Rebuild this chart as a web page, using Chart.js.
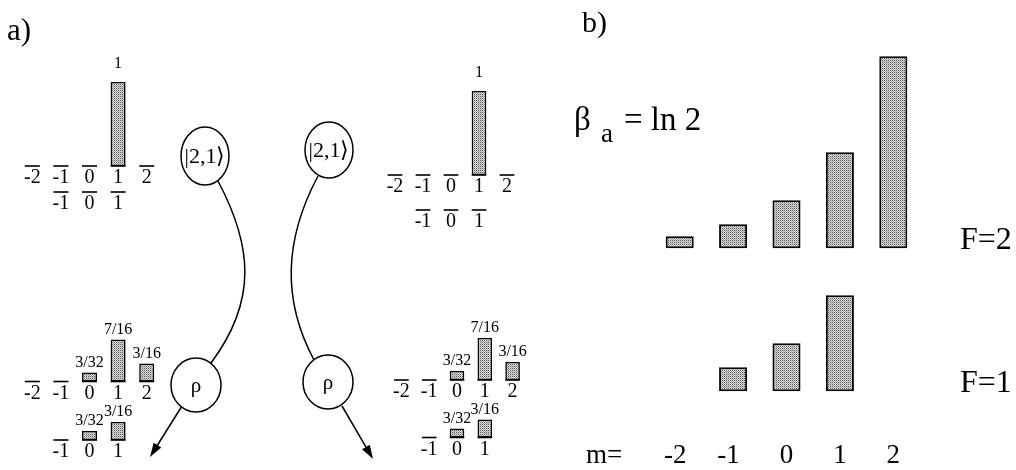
<!DOCTYPE html>
<html>
<head>
<meta charset="utf-8">
<script src="https://cdn.jsdelivr.net/npm/chart.js@4.4.1/dist/chart.umd.min.js"></script>
<style>
  html, body { margin: 0; padding: 0; background: #fff; }
  body { width: 1016px; height: 470px; position: relative; overflow: hidden; }
  canvas { position: absolute; left: 0; top: 0; }
</style>
</head>
<body>
<canvas id="transitions" width="1016" height="470"></canvas>
<canvas id="aTL" width="1016" height="470"></canvas>
<canvas id="aBL" width="1016" height="470"></canvas>
<canvas id="aTR" width="1016" height="470"></canvas>
<canvas id="aBR" width="1016" height="470"></canvas>
<canvas id="panelB" width="1016" height="470"></canvas>
<script>
// Magnetic sublevels m of the hyperfine manifolds
const mTickLabels = ['-2', '-1', '0', '1', '2'];

// Populations (null = sublevel does not exist in that manifold)
const popInitialF2 = [0, 0, 0, 1, 0];          // pure |2,1>
const popInitialF1 = [null, 0, 0, 0, null];
const popFinalF2   = [0, 0, 0.09375, 0.4375, 0.1875];   // rho: 3/32, 7/16, 3/16
const popFinalF1   = [null, 0, 0.09375, 0.1875, null];  // rho: 3/32, 3/16

// Thermal distribution for beta_a = ln 2 (relative weights)
const thermalF2 = [0.25, 0.5, 1, 2, 4];
const thermalF1 = [null, 0.5, 1, 2, null];

const W = 1016, H = 470;
const SERIF = '"Liberation Serif", "Times New Roman", serif';

// stippled grey fill used for every population bar
const tile = document.createElement('canvas');
tile.width = 2; tile.height = 2;
(function () {
  const g = tile.getContext('2d');
  g.fillStyle = '#dcdcdc'; g.fillRect(0, 0, 2, 2);
  g.fillStyle = '#5a5a5a'; g.fillRect(0, 0, 1, 1);
  g.fillStyle = '#a4a4a4'; g.fillRect(1, 1, 1, 1);
})();

function asFraction(v) {
  if (Number.isInteger(v)) return String(v);
  for (let d = 2; d <= 64; d *= 2) {
    const n = v * d;
    if (Math.abs(n - Math.round(n)) < 1e-9) return Math.round(n) + '/' + d;
  }
  return v.toFixed(2);
}

const baseOptions = {
  responsive: false,
  animation: false,
  events: [],
  plugins: { legend: { display: false }, tooltip: { enabled: false } }
};

// ---------- panel a: level diagrams ----------
const diagrams = [
  { id: 'aTL', f2: popInitialF2, f1: popInitialF1, c0: 89.5, step: 28.6, yF2: 166,   yF1: 192,   k: 84, gap: 14 },
  { id: 'aBL', f2: popFinalF2,   f1: popFinalF1,   c0: 89.5, step: 28.6, yF2: 381.5, yF1: 440,   k: 96, gap: 6 },
  { id: 'aTR', f2: popInitialF2, f1: popInitialF1, c0: 451,  step: 28,   yF2: 175,   yF1: 210,   k: 84, gap: 14 },
  { id: 'aBR', f2: popFinalF2,   f1: popFinalF1,   c0: 457,  step: 27.8, yF2: 380,   yF1: 437.5, k: 96, gap: 6 }
];

function levelPlugin(cfg, f1Base) {
  return {
    id: 'levels',
    afterDatasetsDraw(chart) {
      const { ctx } = chart;
      const xs = chart.scales.x, ys = chart.scales.y;
      const half = cfg.step * 0.525 / 2;
      ctx.save();
      ctx.fillStyle = '#000';
      ctx.strokeStyle = '#000';
      ctx.lineWidth = 1.6;
      ctx.textAlign = 'center';
      ctx.textBaseline = 'alphabetic';
      [{ pops: cfg.f2, base: 0 }, { pops: cfg.f1, base: f1Base }].forEach(L => {
        L.pops.forEach((p, i) => {
          if (p === null) return;
          const cx = xs.getPixelForValue(i);
          const by = ys.getPixelForValue(L.base);
          ctx.beginPath();
          ctx.moveTo(cx - half, by);
          ctx.lineTo(cx + half, by);
          ctx.stroke();
          ctx.font = '20px ' + SERIF;
          ctx.fillText(mTickLabels[i], cx, by + 17);
          if (p > 0) {
            ctx.font = '16px ' + SERIF;
            ctx.fillText(asFraction(p), cx, ys.getPixelForValue(L.base + p) - cfg.gap);
          }
        });
      });
      ctx.restore();
    }
  };
}

diagrams.forEach(cfg => {
  const left = cfg.c0 - 2.5 * cfg.step, right = cfg.c0 + 2.5 * cfg.step;
  const top = cfg.yF2 - 130, bottom = cfg.yF1 + 30;
  const f1Base = (cfg.yF2 - cfg.yF1) / cfg.k;
  const canvas = document.getElementById(cfg.id);
  const fill = canvas.getContext('2d').createPattern(tile, 'repeat');
  const barStyle = {
    backgroundColor: fill, borderColor: '#000', borderWidth: 1.6, borderSkipped: false,
    grouped: false, barPercentage: 0.525, categoryPercentage: 1
  };
  new Chart(canvas, {
    type: 'bar',
    data: {
      labels: mTickLabels,
      datasets: [
        { label: 'F=2', data: cfg.f2.map(v => v ? [0, v] : null), ...barStyle },
        { label: 'F=1', data: cfg.f1.map(v => v ? [f1Base, f1Base + v] : null), ...barStyle }
      ]
    },
    options: {
      ...baseOptions,
      layout: { padding: { left: left, right: W - right, top: top, bottom: H - bottom } },
      scales: {
        x: { display: false },
        y: { display: false, min: -(bottom - cfg.yF2) / cfg.k, max: (cfg.yF2 - top) / cfg.k }
      }
    },
    plugins: [levelPlugin(cfg, f1Base)]
  });
});

// ---------- panel a: states and evolution arrows ----------
const stateNodes = [
  { text: '|2,1\u27E9', x: 205, y: 156, rx: 24, ry: 29, size: 22 },
  { text: '|2,1\u27E9', x: 329, y: 150, rx: 24, ry: 28, size: 22 },
  { text: '\u03C1',     x: 196, y: 385, rx: 25, ry: 27, size: 21 },
  { text: '\u03C1',     x: 328, y: 382, rx: 25, ry: 27, size: 21 }
];
const evolutionCurves = [
  [[218, 181], [252, 245], [258, 300], [211, 363]],
  [[318, 176], [284, 240], [282, 300], [314, 360]]
];
const outArrows = [
  [[182, 406], [150, 457]],
  [[342, 406], [373, 459]]
];

new Chart(document.getElementById('transitions'), {
  type: 'scatter',
  data: { datasets: [] },
  options: {
    ...baseOptions,
    scales: {
      x: { type: 'linear', display: false, min: 0, max: W },
      y: { type: 'linear', display: false, min: 0, max: H, reverse: true }
    }
  },
  plugins: [{
    id: 'states',
    afterDraw(chart) {
      const { ctx } = chart;
      const X = v => chart.scales.x.getPixelForValue(v);
      const Y = v => chart.scales.y.getPixelForValue(v);
      ctx.save();
      ctx.fillStyle = '#000';

      ctx.font = '31px ' + SERIF;
      ctx.textAlign = 'left';
      ctx.textBaseline = 'alphabetic';
      ctx.fillText('a)', X(7), Y(40));

      ctx.strokeStyle = '#000';
      ctx.lineWidth = 1.5;
      evolutionCurves.forEach(c => {
        ctx.beginPath();
        ctx.moveTo(X(c[0][0]), Y(c[0][1]));
        ctx.bezierCurveTo(X(c[1][0]), Y(c[1][1]), X(c[2][0]), Y(c[2][1]), X(c[3][0]), Y(c[3][1]));
        ctx.stroke();
      });

      outArrows.forEach(a => {
        const x0 = X(a[0][0]), y0 = Y(a[0][1]), x1 = X(a[1][0]), y1 = Y(a[1][1]);
        const len = Math.hypot(x1 - x0, y1 - y0), ux = (x1 - x0) / len, uy = (y1 - y0) / len;
        const hl = 14, hw = 4.5;
        ctx.beginPath();
        ctx.moveTo(x0, y0);
        ctx.lineTo(x1 - ux * hl * 0.8, y1 - uy * hl * 0.8);
        ctx.stroke();
        ctx.beginPath();
        ctx.moveTo(x1, y1);
        ctx.lineTo(x1 - ux * hl - uy * hw, y1 - uy * hl + ux * hw);
        ctx.lineTo(x1 - ux * hl + uy * hw, y1 - uy * hl - ux * hw);
        ctx.closePath();
        ctx.fill();
      });

      stateNodes.forEach(n => {
        ctx.beginPath();
        ctx.ellipse(X(n.x), Y(n.y), n.rx, n.ry, 0, 0, Math.PI * 2);
        ctx.fillStyle = '#fff';
        ctx.fill();
        ctx.stroke();
        ctx.fillStyle = '#000';
        ctx.font = n.size + 'px ' + SERIF;
        ctx.textAlign = 'center';
        ctx.textBaseline = 'middle';
        ctx.fillText(n.text, X(n.x), Y(n.y) + 1);
      });
      ctx.restore();
    }
  }]
});

// ---------- panel b: thermal populations ----------
const bLayout = { left: 653, right: 920, top: 30, yF2: 248.3, yF1: 391.3, k: 48 };
(function () {
  const canvas = document.getElementById('panelB');
  const fill = canvas.getContext('2d').createPattern(tile, 'repeat');
  const f2Base = (bLayout.yF1 - bLayout.yF2) / bLayout.k;
  const barStyle = {
    backgroundColor: fill, borderColor: '#000', borderWidth: 2, borderSkipped: false,
    grouped: false, barPercentage: 0.525, categoryPercentage: 1
  };
  new Chart(canvas, {
    type: 'bar',
    data: {
      labels: mTickLabels,
      datasets: [
        { label: 'F=2', data: thermalF2.map(v => v ? [f2Base, f2Base + v] : null), ...barStyle },
        { label: 'F=1', data: thermalF1.map(v => v ? [0, v] : null), ...barStyle }
      ]
    },
    options: {
      ...baseOptions,
      layout: { padding: { left: bLayout.left, right: W - bLayout.right, top: bLayout.top, bottom: 0 } },
      scales: {
        x: { display: false },
        y: { display: false, min: -(H - bLayout.yF1) / bLayout.k, max: (bLayout.yF1 - bLayout.top) / bLayout.k }
      }
    },
    plugins: [{
      id: 'thermalText',
      afterDraw(chart) {
        const { ctx } = chart;
        const xs = chart.scales.x, ys = chart.scales.y;
        ctx.save();
        ctx.fillStyle = '#000';
        ctx.textBaseline = 'alphabetic';
        ctx.textAlign = 'left';

        ctx.font = '30px ' + SERIF;
        ctx.fillText('b)', 582, 32);

        ctx.font = '33px ' + SERIF;
        ctx.fillText('\u03B2', 574, 130);
        ctx.font = '27px ' + SERIF;
        ctx.fillText('a', 601, 142);
        ctx.font = '33px ' + SERIF;
        ctx.fillText('= ln 2', 624, 130);

        ctx.font = '32px ' + SERIF;
        ctx.fillText('F=2', 960, ys.getPixelForValue(f2Base) + 1);
        ctx.fillText('F=1', 960, ys.getPixelForValue(0) + 1);

        ctx.font = '27px ' + SERIF;
        const mY = 463;
        ctx.fillText('m=', 586, mY);
        const digitW = ctx.measureText('0').width;
        ctx.textAlign = 'right';
        mTickLabels.forEach((t, i) => {
          ctx.fillText(t, xs.getPixelForValue(i) + digitW / 2, mY);
        });
        ctx.restore();
      }
    }]
  });
})();
</script>
</body>
</html>
